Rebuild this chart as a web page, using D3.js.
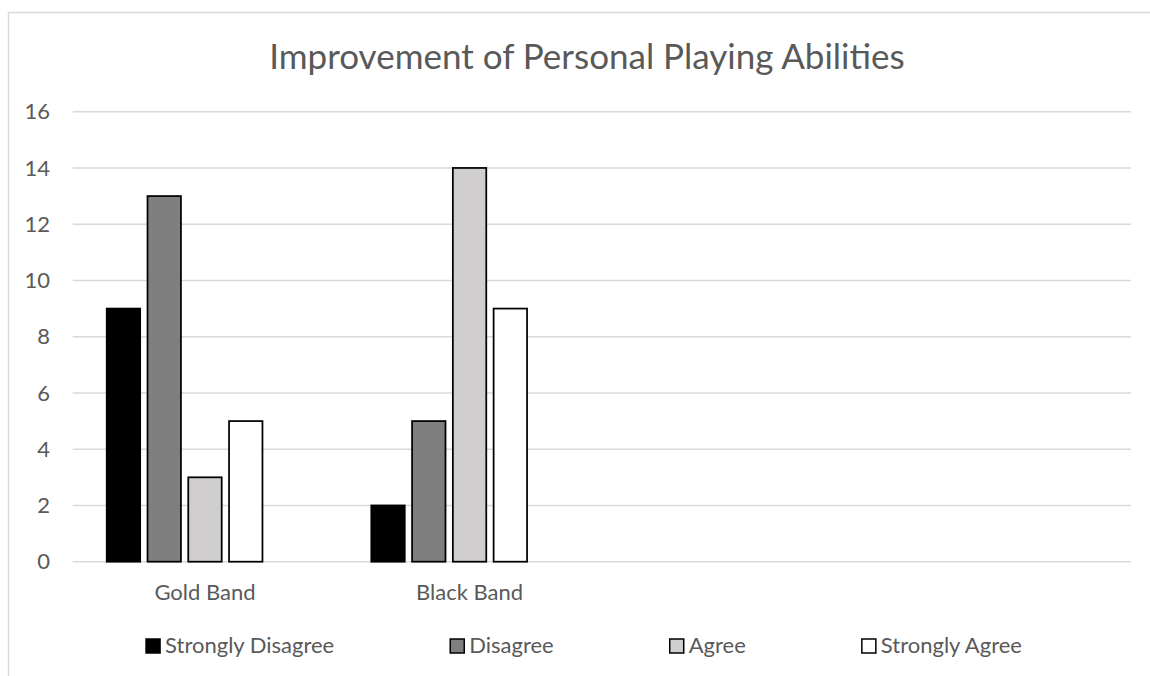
<!DOCTYPE html>
<html>
<head>
<meta charset="utf-8">
<script src="https://cdn.jsdelivr.net/npm/d3@7"></script>
<style>
  html, body { margin: 0; padding: 0; background: #fff; }
  svg { display: block; font-family: Lato, "Open Sans", sans-serif; }
</style>
</head>
<body>
<svg id="chart" width="1150" height="676"></svg>
<script>
// Survey responses per band
const categories = ["Gold Band", "Black Band", "", ""];
const seriesNames = ["Strongly Disagree", "Disagree", "Agree", "Strongly Agree"];
const goldBand = [9, 13, 3, 5];
const blackBand = [2, 5, 14, 9];
const seriesColors = ["#000000", "#7f7f7f", "#d0cece", "#ffffff"];
const yTicks = [0, 2, 4, 6, 8, 10, 12, 14, 16];
const title = "Improvement of Personal Playing Abilities";

const values = [goldBand, blackBand, [], []];

const svg = d3.select("#chart");
const textColor = "#595959";
const gridColor = "#d9d9d9";

// chart frame (continues past the right and bottom edges)
svg.append("rect")
  .attr("x", 8.5).attr("y", 12.5)
  .attr("width", 1160).attr("height", 700)
  .attr("fill", "#fff")
  .attr("stroke", gridColor).attr("stroke-width", 1.5);

const plot = { left: 72.7, right: 1131, top: 111.7, bottom: 561.7 };

const y = d3.scaleLinear().domain([0, 16]).range([plot.bottom, plot.top]);
const x = d3.scaleBand().domain(d3.range(categories.length)).range([plot.left, plot.right]);
// five slots per category; the last one stays empty
const xs = d3.scaleBand().domain(d3.range(5)).range([0, x.bandwidth()])
  .paddingInner(0.18).paddingOuter(0.835);

// gridlines
svg.append("g").selectAll("line").data(yTicks).join("line")
  .attr("x1", plot.left).attr("x2", plot.right)
  .attr("y1", d => y(d)).attr("y2", d => y(d))
  .attr("stroke", gridColor).attr("stroke-width", 1.5);

// y tick labels
svg.append("g").selectAll("text").data(yTicks).join("text")
  .attr("x", 50).attr("y", d => y(d))
  .attr("dy", "0.35em")
  .attr("text-anchor", "end")
  .attr("fill", textColor)
  .style("font-size", "22px")
  .text(d => d);

// bars
const barData = [];
values.forEach((vals, ci) => vals.forEach((v, si) => barData.push({ ci, si, v })));
svg.append("g").selectAll("rect").data(barData).join("rect")
  .attr("x", d => x(d.ci) + xs(d.si))
  .attr("width", xs.bandwidth())
  .attr("y", d => y(d.v))
  .attr("height", d => y(0) - y(d.v))
  .attr("fill", d => seriesColors[d.si])
  .attr("stroke", "#000")
  .attr("stroke-width", 1.75);

// category labels
svg.append("g").selectAll("text").data(categories).join("text")
  .attr("x", (d, i) => x(i) + x.bandwidth() / 2)
  .attr("y", 600)
  .attr("text-anchor", "middle")
  .attr("fill", textColor)
  .style("font-size", "22px")
  .text(d => d);

// title
svg.append("text")
  .attr("x", 587).attr("y", 69)
  .attr("text-anchor", "middle")
  .attr("fill", textColor)
  .style("font-size", "35px")
  .text(title);

// legend laid out left to right and centred under the chart
const legendGap = 116;
const legend = svg.append("g");
const items = legend.selectAll("g").data(seriesNames).join("g");
items.append("rect")
  .attr("width", 14).attr("height", 14)
  .attr("y", -6)
  .attr("fill", (d, i) => seriesColors[i])
  .attr("stroke", "#000").attr("stroke-width", 1.5);
items.append("text")
  .attr("x", 19).attr("dy", "0.35em")
  .attr("fill", textColor)
  .style("font-size", "22px")
  .text(d => d);
let cursor = 0;
items.each(function () {
  const w = this.getBBox().width;
  d3.select(this).attr("transform", `translate(${cursor},645)`);
  cursor += w + legendGap;
});
const total = cursor - legendGap;
legend.attr("transform", `translate(${584 - total / 2},0)`);
</script>
</body>
</html>
